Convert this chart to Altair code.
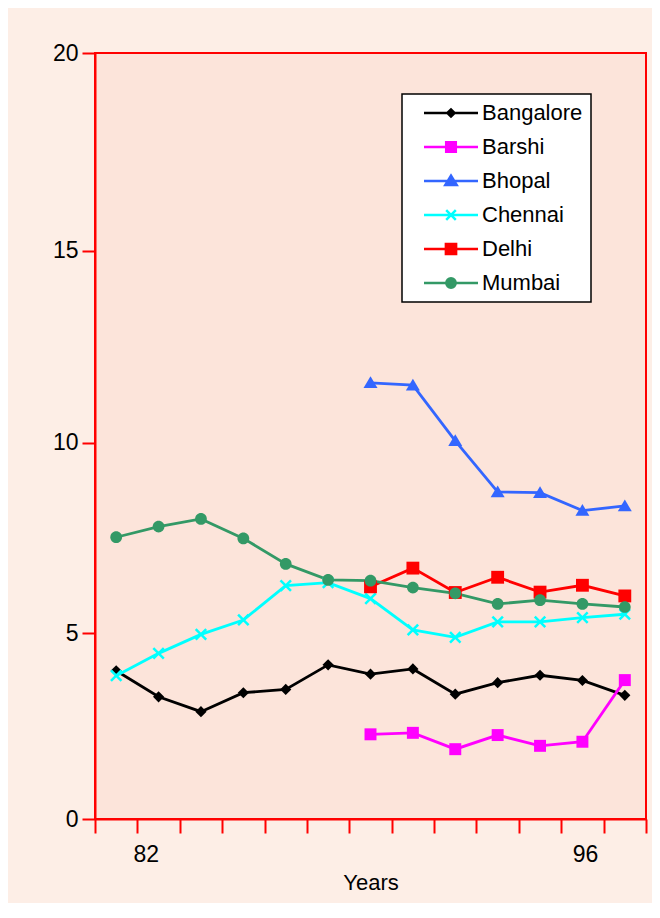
import altair as alt
import pandas as pd

# ---- data ----
cities = ["Bangalore", "Barshi", "Bhopal", "Chennai", "Delhi", "Mumbai"]
colors = ["#000000", "#FF00FF", "#3366FF", "#00FFFF", "#FF0000", "#339966"]

periods_all = list(range(1, 14))
periods_late = list(range(7, 14))

bangalore = [3.99, 3.29, 2.89, 3.40, 3.49, 4.15, 3.90, 4.04, 3.36, 3.67, 3.87, 3.73, 3.33]
chennai = [3.86, 4.46, 4.97, 5.35, 6.25, 6.33, 5.91, 5.09, 4.89, 5.30, 5.30, 5.41, 5.50]
mumbai = [7.52, 7.80, 8.00, 7.49, 6.82, 6.40, 6.38, 6.20, 6.05, 5.77, 5.87, 5.77, 5.69]
bhopal = [11.56, 11.50, 10.05, 8.71, 8.69, 8.22, 8.34]
delhi = [6.22, 6.71, 6.07, 6.47, 6.08, 6.26, 5.98]
barshi = [2.28, 2.32, 1.88, 2.26, 1.97, 2.08, 3.74]

y_ticks = [0, 5, 10, 15, 20]
x_labels = ["82", "96"]
x_label_pos = [1.7, 12.06]

series = [
    ("Bangalore", periods_all, bangalore),
    ("Barshi", periods_late, barshi),
    ("Bhopal", periods_late, bhopal),
    ("Chennai", periods_all, chennai),
    ("Delhi", periods_late, delhi),
    ("Mumbai", periods_all, mumbai),
]
rows = []
for name, xs, ys in series:
    for xv, yv in zip(xs, ys):
        rows.append({"city": name, "period": xv, "value": yv})
df = pd.DataFrame(rows)

# ---- styling ----
FONT = "Liberation Sans"
marker_paths = {
    "Bangalore": "M-1,0L0,-1L1,0L0,1Z",
    "Barshi": "M-1.07,-1.07H1.07V1.07H-1.07Z",
    "Bhopal": "M0,-1.15L1.25,0.95H-1.25Z",
    "Chennai": "M-1,-1L1,1M1,-1L-1,1",
    "Delhi": "M-1.15,-1.15H1.15V1.15H-1.15Z",
    "Mumbai": "M1.05,0A1.05,1.05,0,1,1,-1.05,0A1.05,1.05,0,1,1,1.05,0Z",
}

legend_line = "M-4.5,0H4.5"
legend_marks = {
    "Bangalore": "M-0.6,0L0,-0.6L0.6,0L0,0.6Z",
    "Barshi": "M-0.8,-0.8H0.8V0.8H-0.8Z",
    "Bhopal": "M0,-0.9L0.95,0.65H-0.95Z",
    "Chennai": "M-0.8,-0.8L0.8,0.8M0.8,-0.8L-0.8,0.8",
    "Delhi": "M-0.85,-0.85H0.85V0.85H-0.85Z",
    "Mumbai": "M0.78,0A0.78,0.78,0,1,1,-0.78,0A0.78,0.78,0,1,1,0.78,0Z",
}
shape_expr = "'circle'"
for c in reversed(cities):
    shape_expr = f"(datum.value == '{c}' ? '{legend_line}{legend_marks[c]}' : {shape_expr})"
color_expr = "scale('color', datum.value)"

leg = alt.Legend(
    title=None,
    orient="none",
    legendX=307,
    legendY=41,
    fillColor="white",
    strokeColor="black",
    padding=8,
    labelFont=FONT,
    labelFontSize=22,
    labelColor="black",
    labelExpr="datum.label + '\u00a0\u00a0\u00a0\u00a0\u00a0\u00a0\u00a0\u00a0'",
    rowPadding=12,
    symbolSize=144,
    symbolStrokeWidth=2.5,
    symbolOffset=30,
    labelOffset=20,
    symbolType={"expr": shape_expr},
    symbolFillColor={"expr": color_expr},
    symbolStrokeColor={"expr": color_expr},
    symbolOpacity=1,
)

x_bounds = [i + 0.5 for i in range(14)]
label_test = " || ".join(f"datum.value == {p}" for p in x_label_pos)
label_expr = " : ".join(f"datum.value == {p} ? '{t}'" for p, t in zip(x_label_pos, x_labels)) + " : ''"

X = alt.X(
    "period:Q",
    scale=alt.Scale(domain=[0.5, 13.5], nice=False, zero=False),
    axis=alt.Axis(
        values=x_bounds + x_label_pos,
        labelExpr=label_expr,
        labelOverlap=False,
        labelFlush=False,
        tickSize=14,
        tickWidth=2,
        tickColor="#FF0000",
        tickOpacity={"condition": {"test": label_test, "value": 0}, "value": 1},
        domainColor="#FF0000",
        domainWidth=2,
        labelFont=FONT,
        labelFontSize=23,
        labelColor="black",
        labelPadding=10,
        title="Years",
        titleFont=FONT,
        titleFontSize=22,
        titleFontWeight="normal",
        titleColor="black",
        titlePadding=6,
        grid=False,
    ),
)
Y = alt.Y(
    "value:Q",
    scale=alt.Scale(domain=y_ticks, range=[766, 580.3, 389.7, 197.7, 0], nice=False, zero=False),
    axis=alt.Axis(
        values=y_ticks,
        title=None,
        tickSize=13,
        tickWidth=2,
        tickColor="#FF0000",
        domainColor="#FF0000",
        domainWidth=2,
        labelFont=FONT,
        labelFontSize=23,
        labelColor="black",
        labelPadding=4,
        grid=False,
    ),
)
color = alt.Color("city:N", scale=alt.Scale(domain=cities, range=colors), legend=leg)

base = alt.Chart(df)
layers = [base.mark_line(strokeWidth=2.8).encode(x=X, y=Y, color=color)]
for c in cities:
    if c == "Chennai":
        mk = dict(shape=marker_paths[c], filled=False, strokeWidth=2.5, size=110, opacity=1)
    else:
        mk = dict(shape=marker_paths[c], filled=True, size=125, opacity=1)
    layers.append(
        base.transform_filter(alt.datum.city == c).mark_point(**mk).encode(
            x=X, y=Y, color=color
        )
    )

chart = (
    alt.layer(*layers)
    .properties(
        width=551,
        height=766,
        autosize=alt.AutoSizeParams(type="none"),
        padding={"left": 87, "top": 45, "right": 6, "bottom": 84},
        background="#FDEEE6",
    )
    .configure_view(stroke="#FF0000", strokeWidth=2, fill="#FCE4DA")
    .configure_legend(strokeWidth=1.5)
)

chart.save("out.html", embed_options={"renderer": "svg", "actions": False})
